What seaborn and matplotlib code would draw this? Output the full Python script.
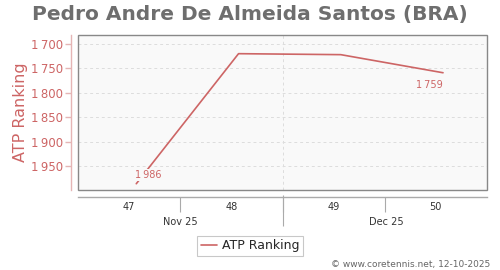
import matplotlib
matplotlib.use("Agg")
import matplotlib.pyplot as plt
import seaborn as sns
import pandas as pd
from matplotlib.patches import Rectangle

weeks = [47, 48, 49, 50]
ranks = [1986, 1720, 1722, 1759]
week_labels = ["47", "48", "49", "50"]
month_labels = ["Nov 25", "Dec 25"]
y_ticks = [1700, 1750, 1800, 1850, 1900, 1950]
title = "Pedro Andre De Almeida Santos (BRA)"
series_name = "ATP Ranking"
credit = "\u00a9 www.coretennis.net, 12-10-2025"

RED = "#cd6565"
GRAY = "#888888"
offset = 0.07

sns.set_theme(style="white")
plt.rcParams['font.family'] = ['DejaVu Sans']

df = pd.DataFrame({"week": [w + offset for w in weeks], "rank": ranks})

fig = plt.figure(figsize=(5.0, 2.7), dpi=100)
ax = fig.add_axes([0.156, 0.296, 0.818, 0.574])
ax.set_facecolor("#f9f9f9")

sns.lineplot(data=df, x="week", y="rank", ax=ax, color=RED, linewidth=1.2,
             label=series_name, zorder=3)

ax.set_xlim(46.5, 50.5)
ax.set_ylim(1999, 1682)

# grid
for yt in y_ticks:
    ax.axhline(yt, color="#dddddd", linestyle=(0, (3, 3)), linewidth=0.7, zorder=1)
ax.axvline(48.5, color="#dddddd", linestyle=(0, (3, 3)), linewidth=0.7, zorder=1)

# frame
for s in ["top", "right"]:
    ax.spines[s].set_visible(False)
ax.add_patch(Rectangle((0, 0), 1, 1, transform=ax.transAxes, fill=False,
                       edgecolor=GRAY, linewidth=1.0, zorder=5, clip_on=False))
ax.spines["left"].set_position(("outward", 5))
ax.spines["left"].set_color("#e5b5b5")
ax.spines["left"].set_linewidth(1.0)
ax.spines["bottom"].set_position(("outward", 5))
ax.spines["bottom"].set_color("#aaaaaa")
ax.spines["bottom"].set_linewidth(1.0)

# y axis
ax.set_yticks(y_ticks)
ax.set_yticklabels([f"{v // 1000}\u2009{v % 1000:03d}" for v in y_ticks])
ax.tick_params(axis="y", colors="#e5b5b5", labelcolor=RED, labelsize=8.5,
               length=4, width=1, pad=2, left=True)
ax.set_ylabel(series_name, color=RED, fontsize=11.5, labelpad=2)

# x axis: separators as major ticks, week labels as minor ticks
ax.set_xticks([47.5, 48.5, 49.5])
ax.set_xticklabels([])
ax.set_xticks(weeks, minor=True)
ax.set_xticklabels(week_labels, minor=True)
ax.tick_params(axis="x", which="major", length=11, width=0.8, colors="#aaaaaa",
               direction="out", bottom=True)
ax.tick_params(axis="x", which="minor", length=0, labelsize=7, labelcolor="#333333",
               pad=3.5)
ax.set_xlabel("")

sec = ax.secondary_xaxis(-5 / 155)
sec.spines["bottom"].set_visible(False)
sec.set_xticks([48.5])
sec.set_xticklabels([])
sec.tick_params(axis="x", which="major", length=22, width=0.8, colors="#aaaaaa")
sec.set_xticks([47.5, 49.52], minor=True)
sec.set_xticklabels(month_labels, minor=True)
sec.tick_params(axis="x", which="minor", length=0, labelsize=7, labelcolor="#333333",
                pad=15.5)

# value labels
bbox = dict(boxstyle="square,pad=0.1", facecolor="#f9f9f9", edgecolor="none")
ax.annotate(f"{ranks[0] // 1000}\u2009{ranks[0] % 1000:03d}", (weeks[0] + offset, ranks[0]),
            xytext=(-1, 3), textcoords="offset points", fontsize=7, color=RED,
            ha="left", va="bottom", bbox=bbox, zorder=4)
ax.annotate(f"{ranks[-1] // 1000}\u2009{ranks[-1] % 1000:03d}", (weeks[-1] + offset, ranks[-1]),
            xytext=(0, -5), textcoords="offset points", fontsize=7, color=RED,
            ha="right", va="top", zorder=4)

fig.suptitle(title, x=0.5, y=0.98, fontsize=14.5, fontweight="bold", color="#6e6e6e")

leg = ax.legend(loc="center", bbox_to_anchor=(0.5, 1 - 246 / 270),
                bbox_transform=fig.transFigure, fontsize=9, frameon=True,
                fancybox=False, edgecolor="#bbbbbb", handlelength=1.3,
                handletextpad=0.4, borderpad=0.3)
leg.get_frame().set_linewidth(0.8)

fig.text(0.98, 1 - 264 / 270, credit, ha="right", va="center", fontsize=6.5,
         color="#666666")

fig.savefig("out.png", dpi=100, facecolor="white")
